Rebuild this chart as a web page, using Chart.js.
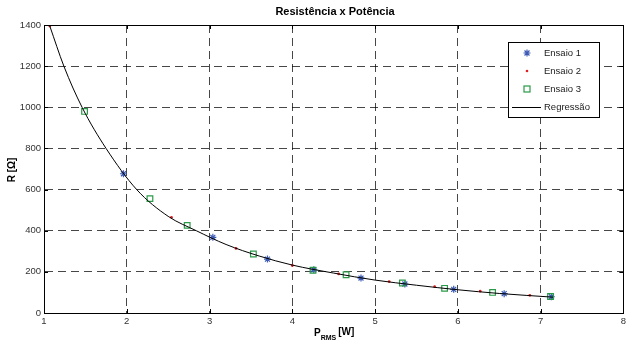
<!DOCTYPE html>
<html>
<head>
<meta charset="utf-8">
<script src="https://cdn.jsdelivr.net/npm/chart.js@4"></script>
<style>
body{margin:0;background:#fff;}
</style>
</head>
<body>
<canvas id="c" width="629" height="342"></canvas>
<script>
var ensaio1X = [1.96, 3.04, 3.70, 4.26, 4.83, 5.36, 5.95, 6.56, 7.13];
var ensaio1Y = [677, 368, 262, 210, 170, 141, 115, 94, 79];
var ensaio2X = [1.07, 2.54, 3.32, 4.00, 4.56, 5.17, 5.72, 6.27, 6.87];
var ensaio2Y = [1395, 465, 314, 231, 190, 153, 128, 106, 86];
var ensaio3X = [1.49, 2.28, 2.73, 3.53, 4.25, 4.65, 5.33, 5.84, 6.42, 7.12];
var ensaio3Y = [980, 556, 426, 287, 208, 186, 146, 120, 100, 80];
var regX = [1.07, 1.24, 1.46, 1.75, 2.12, 2.5, 2.84, 3.2, 3.6, 4.0, 4.5, 5.0, 5.5, 6.0, 6.5, 7.15];
var regY = [1395, 1200, 1000, 800, 600, 470, 400, 333, 277, 233, 194, 160, 135, 113, 95, 77];
var seriesNames = ['Ensaio 1', 'Ensaio 2', 'Ensaio 3', 'Regressão'];

var FONT = '"Liberation Sans", Arial, sans-serif';

function pts(xs, ys) {
    return xs.map(function (x, i) { return {x: x, y: ys[i]}; });
}

// frame, titles, legend box (matlab style)
var extras = {
    id: 'extras',
    afterDraw: function (chart) {
        var ctx = chart.ctx, a = chart.chartArea;
        ctx.save();
        ctx.strokeStyle = '#000';
        ctx.lineWidth = 1;
        ctx.strokeRect(Math.round(a.left) + 0.5, Math.round(a.top) + 0.5, Math.round(a.right - a.left), Math.round(a.bottom - a.top));

        // inner ticks
        var xs = chart.scales.x, ys = chart.scales.y;
        ctx.beginPath();
        for (var v = 2; v < 8; v++) {
            var px = Math.round(xs.getPixelForValue(v)) + 0.5;
            ctx.moveTo(px, a.bottom); ctx.lineTo(px, a.bottom - 4);
            ctx.moveTo(px, a.top); ctx.lineTo(px, a.top + 4);
        }
        for (var w = 200; w < 1400; w += 200) {
            var py = Math.round(ys.getPixelForValue(w)) + 0.5;
            ctx.moveTo(a.left, py); ctx.lineTo(a.left + 4, py);
            ctx.moveTo(a.right, py); ctx.lineTo(a.right - 4, py);
        }
        ctx.stroke();

        // title
        ctx.fillStyle = '#000';
        ctx.font = 'bold 11px ' + FONT;
        ctx.textAlign = 'center';
        ctx.textBaseline = 'middle';
        ctx.fillText('Resistência x Potência', 335, 12);

        // y title
        ctx.save();
        ctx.translate(12, 170);
        ctx.rotate(-Math.PI / 2);
        ctx.font = 'bold 10px ' + FONT;
        ctx.fillText('R [Ω]', 0, 0);
        ctx.restore();

        // x title with subscript
        ctx.textAlign = 'left';
        ctx.textBaseline = 'alphabetic';
        ctx.font = 'bold 10px ' + FONT;
        var x0 = 314;
        ctx.fillText('P', x0, 336);
        x0 += ctx.measureText('P').width;
        ctx.font = 'bold 7px ' + FONT;
        ctx.fillText('RMS', x0, 340);
        x0 += ctx.measureText('RMS').width + 2;
        ctx.font = 'bold 10px ' + FONT;
        ctx.fillText('[W]', x0, 335);

        // legend
        var lx = 508, ly = 42, lw = 91, lh = 75;
        ctx.fillStyle = '#fff';
        ctx.fillRect(lx, ly, lw, lh);
        ctx.strokeStyle = '#000';
        ctx.strokeRect(lx + 0.5, ly + 0.5, lw, lh);
        var rows = [53, 71, 89, 107];
        ctx.font = '9.5px ' + FONT;
        ctx.textBaseline = 'middle';
        for (var i = 0; i < rows.length; i++) {
            ctx.fillStyle = '#222';
            ctx.fillText(seriesNames[i], 544, rows[i]);
        }
        var ds = chart.data.datasets;
        ctx.strokeStyle = ds[0].borderColor; ctx.fillStyle = ds[0].backgroundColor;
        ctx.lineWidth = 1.2;
        Chart.helpers.drawPoint(ctx, {pointStyle: 'star', radius: 3.5, borderWidth: 1.2, rotation: 0}, 527, rows[0]);
        ctx.fillStyle = ds[1].backgroundColor; ctx.strokeStyle = ds[1].borderColor;
        Chart.helpers.drawPoint(ctx, {pointStyle: 'circle', radius: 1.3, borderWidth: 0, rotation: 0}, 527, rows[1]);
        ctx.strokeStyle = ds[2].borderColor; ctx.lineWidth = 1.2;
        ctx.strokeRect(524, rows[2] - 3, 6, 6);
        ctx.strokeStyle = '#000'; ctx.lineWidth = 1;
        ctx.beginPath(); ctx.moveTo(512, rows[3] + 0.5); ctx.lineTo(541, rows[3] + 0.5); ctx.stroke();
        ctx.restore();
    }
};

var gridOpts = {color: 'rgba(0,0,0,0.72)', lineWidth: 1, drawTicks: false};
var borderOpts = {display: true, color: '#000', width: 1, dash: [8, 5]};
var plainTick = function (v) { return String(v); };

new Chart(document.getElementById('c').getContext('2d'), {
    type: 'scatter',
    data: {
        datasets: [{
            label: seriesNames[0],
            data: pts(ensaio1X, ensaio1Y),
            pointStyle: 'star',
            pointRadius: 3.5,
            borderColor: '#3d5bb5',
            backgroundColor: '#3d5bb5',
            pointBorderWidth: 1.2,
            order: 3
        }, {
            label: seriesNames[1],
            data: pts(ensaio2X, ensaio2Y),
            pointStyle: 'circle',
            pointRadius: 1.4,
            borderColor: '#e02020',
            backgroundColor: '#e02020',
            pointBorderWidth: 0,
            order: 2
        }, {
            label: seriesNames[2],
            data: pts(ensaio3X, ensaio3Y),
            pointStyle: 'rect',
            pointRadius: 4,
            borderColor: '#2b9a48',
            backgroundColor: 'rgba(0,0,0,0)',
            pointBorderWidth: 1.2,
            order: 1
        }, {
            label: seriesNames[3],
            data: pts(regX, regY),
            showLine: true,
            pointRadius: 0,
            borderColor: '#000',
            borderWidth: 1,
            cubicInterpolationMode: 'monotone',
            order: 0
        }]
    },
    options: {
        responsive: false,
        animation: false,
        layout: {padding: {left: 0, right: 4, top: 25, bottom: 0}},
        plugins: {legend: {display: false}, tooltip: {enabled: false}},
        scales: {
            x: {
                type: 'linear', min: 1, max: 8,
                ticks: {stepSize: 1, color: '#333', font: {family: FONT, size: 9.5}, padding: 3, callback: plainTick},
                grid: gridOpts,
                border: borderOpts,
                afterFit: function (s) { s.height = 29; }
            },
            y: {
                min: 0, max: 1400,
                ticks: {stepSize: 200, color: '#333', font: {family: FONT, size: 9.5}, padding: 3, callback: plainTick},
                grid: gridOpts,
                border: borderOpts,
                afterFit: function (s) { s.width = 44; }
            }
        }
    },
    plugins: [extras]
});
</script>
</body>
</html>
